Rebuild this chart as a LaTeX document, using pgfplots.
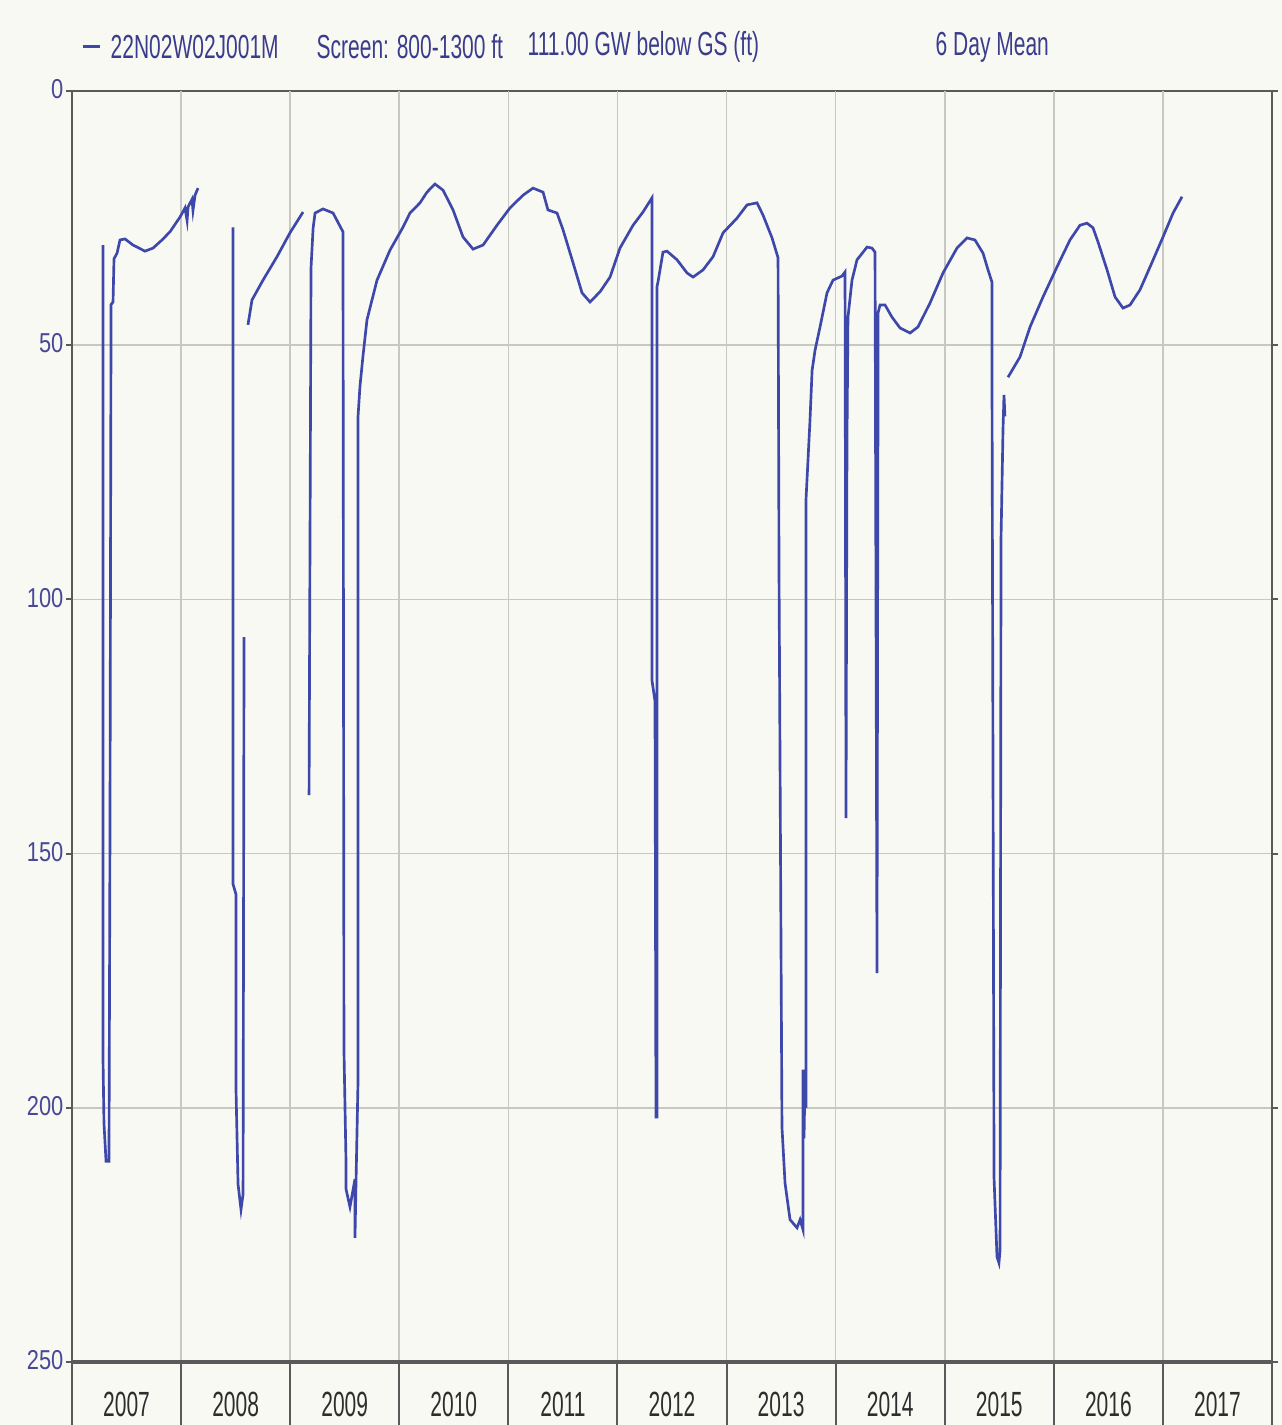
\documentclass[border=0pt]{standalone}
\usepackage{fontspec}
\usepackage{pgfplots}
\pgfplotsset{compat=1.18}
\newfontfamily\titlef{Liberation Sans}[FakeStretch=0.63]
\newfontfamily\yearf{Liberation Sans}[FakeStretch=0.6]
\newfontfamily\ytickf{Liberation Sans}[FakeStretch=0.8]
\definecolor{bgc}{RGB}{249,249,243}
\definecolor{linec}{RGB}{62,72,170}
\definecolor{titlec}{RGB}{58,60,140}
\definecolor{tickc}{RGB}{72,72,150}
\definecolor{yearc}{RGB}{45,45,45}
\definecolor{gridc}{RGB}{200,200,195}
\definecolor{axc}{RGB}{90,90,90}
\begin{document}
\begin{tikzpicture}
\fill[bgc] (-21.6pt,-18.9pt) rectangle (363pt,408.6pt);
\path[use as bounding box] (-21.6pt,-18.9pt) rectangle (363pt,408.6pt);
\begin{axis}[
  at={(0,0)}, anchor=south west,
  scale only axis, width=360pt, height=381.3pt,
  xmin=2007, xmax=2018, ymin=0, ymax=250, y dir=reverse,
  /pgf/number format/assume math mode=true,
  xtick={2007.5,2008.5,2009.5,2010.5,2011.5,2012.5,2013.5,2014.5,2015.5,2016.5,2017.5},
  xticklabels={2007,2008,2009,2010,2011,2012,2013,2014,2015,2016,2017},
  xtick style={draw=none},
  extra x ticks={2008,2009,2010,2011,2012,2013,2014,2015,2016,2017},
  extra x tick labels={},
  extra x tick style={grid=major, xtick style={draw=none}},
  ytick={0,50,100,150,200,250},
  ymajorgrids,
  grid style={gridc, line width=0.5pt},
  tick align=outside, major tick length=1.8pt,
  ytick style={axc, line width=0.6pt},
  yticklabel style={font=\ytickf\fontsize{8.2}{9}\selectfont, text=tickc, anchor=east, inner sep=0pt, xshift=-0.6pt, yshift=0.5pt},
  xticklabel style={font=\yearf\fontsize{10.5}{11}\selectfont, text=yearc, anchor=center, yshift=-11pt},
  axis line style={axc, line width=0.8pt},
  unbounded coords=jump,
]
\addplot[linec, line width=0.8pt, mark=none] coordinates {
(2007.284,30.3) (2007.284,190) (2007.293,203) (2007.312,210.5) (2007.339,210.5)
(2007.348,147) (2007.358,42) (2007.376,41.5) (2007.385,33) (2007.413,31.9)
(2007.440,29.3) (2007.486,29.1) (2007.559,30.3) (2007.669,31.5) (2007.743,30.9)
(2007.825,29.3) (2007.898,27.7) (2007.990,24.8) (2008.036,23.0) (2008.055,25.5)
(2008.064,22.8) (2008.100,21.3) (2008.109,23.5) (2008.128,20.5) (2008.155,19.1)
(2008.16,nan)
(2008.476,26.8) (2008.476,156) (2008.503,158) (2008.503,196) (2008.522,215)
(2008.549,220) (2008.568,217) (2008.577,107.4)
(2008.59,nan)
(2008.613,46.0) (2008.650,41.1) (2008.751,37.2) (2008.879,32.6) (2008.998,27.9)
(2009.118,23.8)
(2009.14,nan)
(2009.173,138.5) (2009.191,34.8) (2009.210,27) (2009.228,24) (2009.301,23.2)
(2009.393,24) (2009.484,27.7) (2009.493,188.6) (2009.512,211) (2009.512,216)
(2009.548,219.5) (2009.594,214) (2009.594,225.6) (2009.604,214) (2009.622,194.5)
(2009.622,64) (2009.640,58) (2009.668,52) (2009.704,45) (2009.796,37.2)
(2009.915,31.3) (2010.034,26.8) (2010.098,24) (2010.190,22) (2010.254,19.9)
(2010.327,18.3) (2010.401,19.5) (2010.493,23.4) (2010.584,28.7) (2010.676,31.1)
(2010.768,30.3) (2010.896,26.4) (2011.015,23) (2011.134,20.5) (2011.226,19.1)
(2011.318,19.9) (2011.363,23.4) (2011.446,24) (2011.501,27.3) (2011.593,33.8)
(2011.675,39.7) (2011.748,41.5) (2011.840,39.5) (2011.932,36.6) (2012.023,30.9)
(2012.143,26.4) (2012.234,23.8) (2012.317,21.0) (2012.317,116) (2012.344,120)
(2012.353,201.8) (2012.362,201.8) (2012.362,38.5) (2012.372,37.5) (2012.417,31.7)
(2012.454,31.5) (2012.546,33.2) (2012.638,35.8) (2012.693,36.6) (2012.784,35.2)
(2012.876,32.6) (2012.968,27.9) (2013.096,25) (2013.188,22.4) (2013.279,22)
(2013.334,24.4) (2013.417,28.9) (2013.472,32.8) (2013.481,95) (2013.508,203.8)
(2013.536,214.8) (2013.582,222) (2013.646,223.6) (2013.674,222) (2013.701,224)
(2013.701,192.5) (2013.710,206) (2013.719,195) (2013.728,200) (2013.728,80.5)
(2013.765,64.7) (2013.784,55) (2013.811,51) (2013.857,46.4) (2013.921,39.7)
(2013.976,37.2) (2014.058,36.4) (2014.086,35.6) (2014.095,143) (2014.104,68.6)
(2014.113,44.5) (2014.150,37.2) (2014.196,33.2) (2014.288,30.7) (2014.333,30.9)
(2014.361,31.7) (2014.379,173.5) (2014.388,62.7) (2014.388,43.7) (2014.407,42.1)
(2014.453,42.1) (2014.517,44.5) (2014.590,46.6) (2014.682,47.6) (2014.755,46.4)
(2014.865,41.7) (2014.984,35.8) (2015.112,30.9) (2015.204,28.9) (2015.277,29.3)
(2015.351,31.9) (2015.397,35.2) (2015.433,37.6) (2015.433,54.9) (2015.452,213.8)
(2015.479,229.3) (2015.497,230.5) (2015.507,228) (2015.516,88) (2015.534,66.7)
(2015.543,59.8) (2015.552,64)
(2015.565,nan)
(2015.580,56.3) (2015.690,52.3) (2015.782,46.4) (2015.901,40.5) (2016.029,34.6)
(2016.148,29.3) (2016.240,26.4) (2016.304,26) (2016.359,26.9) (2016.405,29.7)
(2016.488,35.2) (2016.561,40.5) (2016.634,42.7) (2016.698,42.1) (2016.790,39.1)
(2016.882,34.6) (2017.001,28.7) (2017.093,24) (2017.175,20.8)
};
\end{axis}
\foreach \i in {0,...,11} {
  \draw[axc, line width=0.6pt] ({\i*360/11*1pt},0pt) -- ({\i*360/11*1pt},-18.9pt);
}
\draw[axc, line width=1.3pt] (0pt,0pt) -- (360pt,0pt);
\draw[linec, line width=0.9pt] (3.3pt,394.5pt) -- (8.4pt,394.5pt);
\begin{scope}[every node/.style={anchor=west, inner sep=0pt, text=titlec, font=\titlef\fontsize{10}{12}\selectfont}]
\node at (11.4pt,394.5pt) {22N02W02J001M};
\node at (73.2pt,394.5pt) {Screen: 800-1300 ft};
\node at (136.5pt,394.5pt) {111.00 GW below GS (ft)};
\node at (258.9pt,394.5pt) {6 Day Mean};
\end{scope}
\end{tikzpicture}
\end{document}
